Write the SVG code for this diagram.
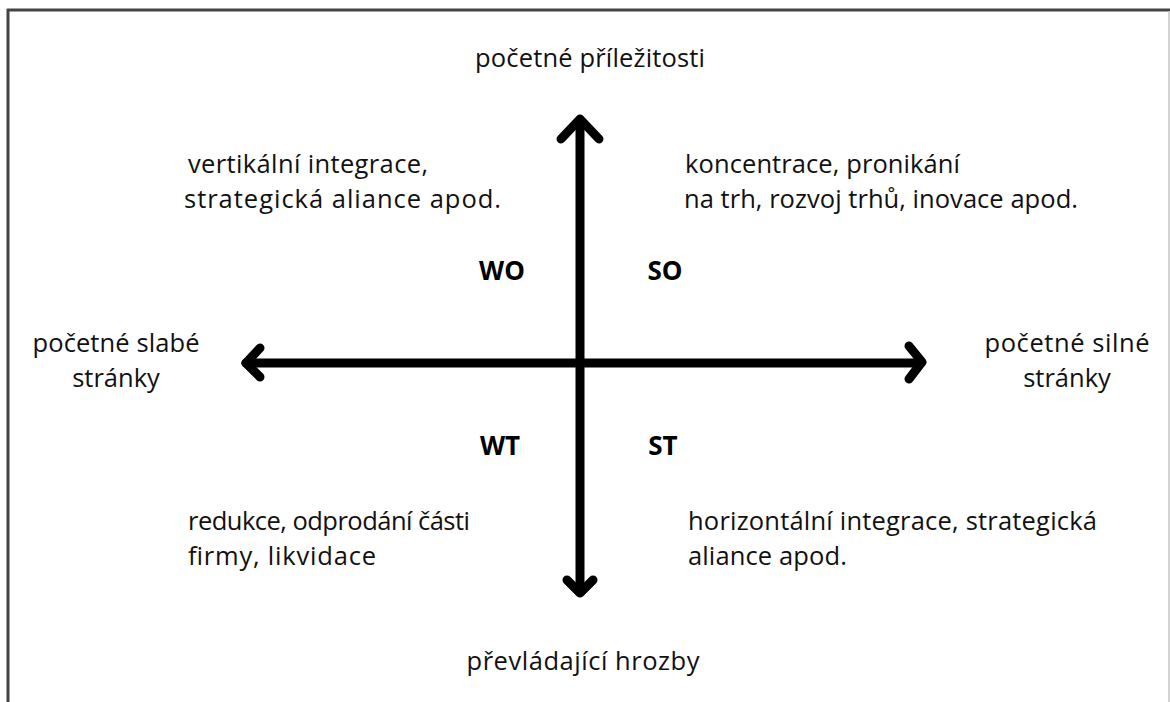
<svg xmlns="http://www.w3.org/2000/svg" width="1170" height="702" viewBox="0 0 1170 702">
<style>
.t{font-family:"Open Sans","Noto Sans","Liberation Sans",sans-serif;font-size:25.5px;fill:#111}
.b{font-weight:bold;fill:#000;font-size:26px}
.c{text-anchor:middle}
.ax{fill:none;stroke:#000;stroke-width:9;stroke-linecap:round;stroke-linejoin:round}
</style>
<rect width="1170" height="702" fill="#fff"/>
<g id="frame">
<line x1="7" y1="10" x2="1170" y2="10" stroke="#444" stroke-width="3"/>
<line x1="8" y1="9" x2="8" y2="702" stroke="#444" stroke-width="3"/>
<line x1="1169" y1="11" x2="1169" y2="702" stroke="#c4c4c4" stroke-width="1.5"/>
</g>
<g id="connectors">
<path class="ax" d="M580,120 L580,592"/>
<path class="ax" d="M246,363 L921,363"/>
<path class="ax" d="M561,139 L580,119 L599,139"/>
<path class="ax" d="M567,580 L580,593 L593,580"/>
<path class="ax" d="M260,348 L246,363 L260,377"/>
<path class="ax" d="M909,346 L922,362 L909,379"/>
</g>
<g id="top"><text class="t c" x="590" y="67" textLength="230">početné příležitosti</text></g>
<g id="bottom"><text class="t c" x="583" y="670" textLength="233">převládající hrozby</text></g>
<g id="left"><text class="t c" x="116" y="352" textLength="167">početné slabé</text><text class="t c" x="116" y="387">stránky</text></g>
<g id="right"><text class="t c" x="1067" y="352" textLength="165">početné silné</text><text class="t c" x="1067" y="387">stránky</text></g>
<g id="WO"><text class="t b c" x="502" y="280">WO</text></g>
<g id="SO"><text class="t b c" x="665" y="280">SO</text></g>
<g id="WT"><text class="t b c" x="500" y="455">WT</text></g>
<g id="ST"><text class="t b c" x="663" y="455">ST</text></g>
<g id="wo-text"><text class="t" x="188" y="173" textLength="240">vertikální integrace,</text><text class="t" x="184" y="208" textLength="317">strategická aliance apod.</text></g>
<g id="so-text"><text class="t" x="685" y="173" textLength="275">koncentrace, pronikání</text><text class="t" x="684" y="208" textLength="394">na trh, rozvoj trhů, inovace apod.</text></g>
<g id="wt-text"><text class="t" x="188" y="530" textLength="282">redukce, odprodání části</text><text class="t" x="188" y="565" textLength="188">firmy, likvidace</text></g>
<g id="st-text"><text class="t" x="688" y="530" textLength="409">horizontální integrace, strategická</text><text class="t" x="688" y="565" textLength="159">aliance apod.</text></g>
</svg>
